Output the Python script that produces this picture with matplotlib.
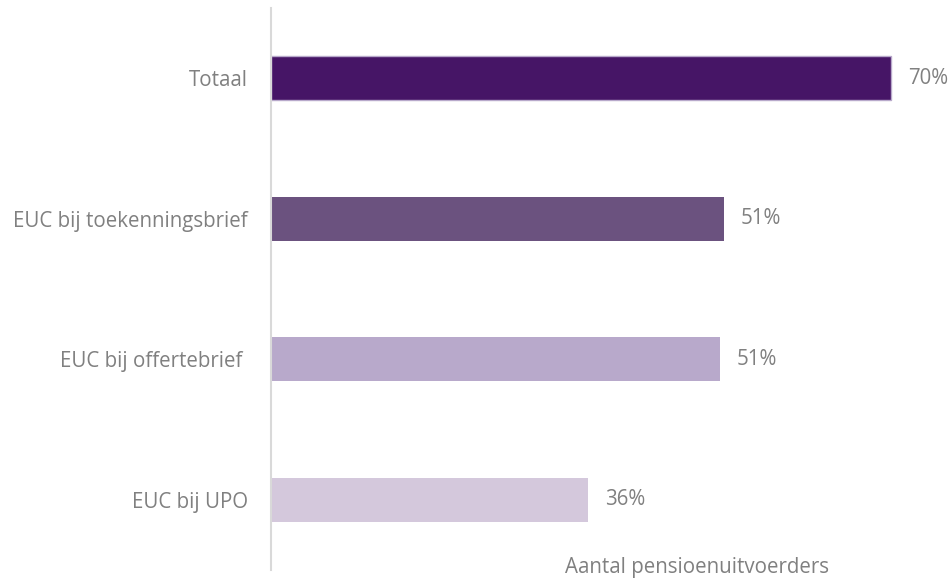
import matplotlib
matplotlib.use("Agg")
import matplotlib.pyplot as plt

categories = ["Totaal", "EUC bij toekenningsbrief", "EUC bij offertebrief ", "EUC bij UPO"]
values = [70.0, 51.1, 50.7, 35.8]
labels = ["70%", "51%", "51%", "36%"]
colors = ["#461566", "#6b527f", "#b8a9cb", "#d4c8dc"]
edgecolors = ["#b8a9cb", "none", "none", "none"]
xlabel = "Aantal pensioenuitvoerders"

plt.rcParams['font.family'] = ['Open Sans', 'DejaVu Sans']
FS = 14.8
TXT = "#808080"

fig = plt.figure(figsize=(9.52, 5.83), dpi=100)
ax = fig.add_axes([271/952, 1 - 570/583, (952 - 271)/952, (570 - 8)/583])

y = list(range(len(categories)))
for i, (v, c, e) in enumerate(zip(values, colors, edgecolors)):
    ax.barh(i, v, height=0.315, color=c, edgecolor=e, linewidth=1.0 if e != "none" else 0)
    ax.text(v + 1.9, i, labels[i], va="center", ha="left", fontsize=FS, color=TXT)

ax.set_ylim(3.5, -0.5)
ax.set_xlim(0, 76.9)
ax.set_yticks(y)
ax.set_yticklabels(categories, fontsize=FS, color=TXT)
ax.tick_params(axis="y", length=0, pad=16.5)
ax.set_xticks([])
for s in ["top", "right", "bottom"]:
    ax.spines[s].set_visible(False)
ax.spines["left"].set_color("#d9d9d9")
ax.spines["left"].set_linewidth(1.5)

fig.text(697/952, 1 - 567/583, xlabel, ha="center", va="center", fontsize=FS, color=TXT)

fig.savefig("out.png", dpi=100)
